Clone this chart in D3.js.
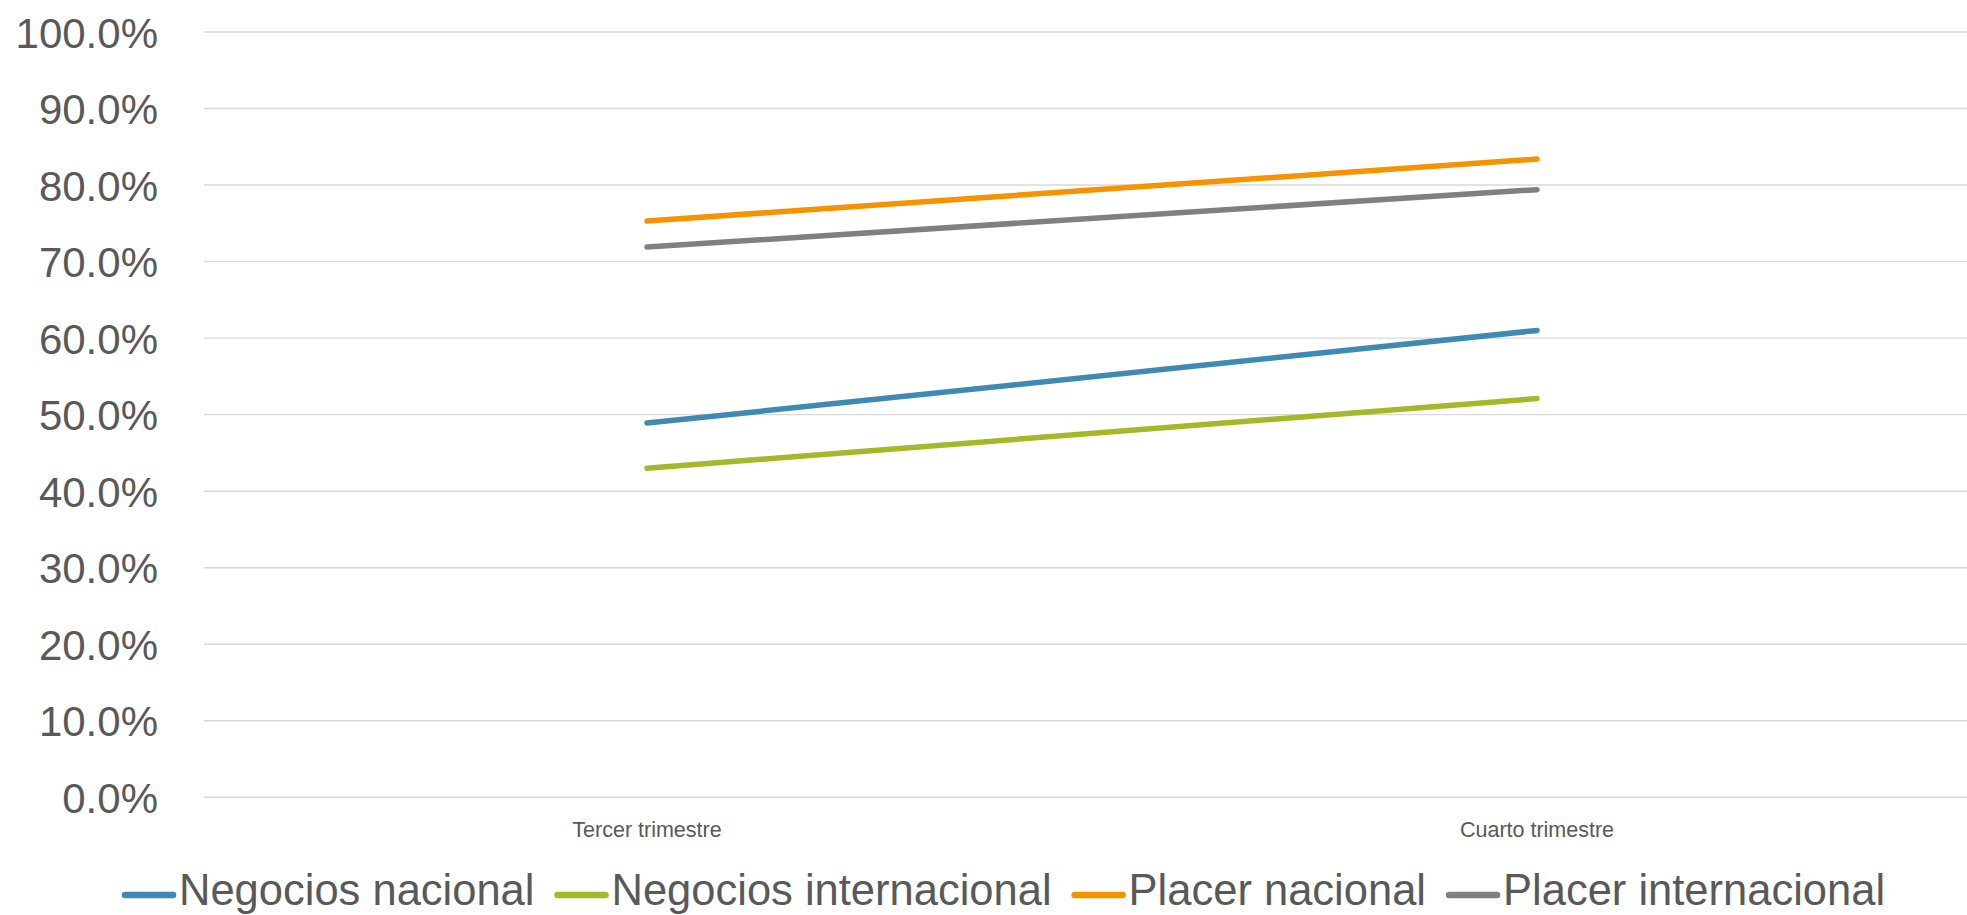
<!DOCTYPE html>
<html><head><meta charset="utf-8">
<script src="https://cdn.jsdelivr.net/npm/d3@7"></script>
<style>html,body{margin:0;padding:0;background:#fff;}svg{display:block;}</style>
</head><body>
<svg id="chart" width="1967" height="915"></svg>
<script>
const categories = ["Tercer trimestre", "Cuarto trimestre"];
const seriesNames = ["Negocios nacional", "Negocios internacional", "Placer nacional", "Placer internacional"];
const negociosNacional = [0.489, 0.610];
const negociosInternacional = [0.430, 0.521];
const placerNacional = [0.753, 0.834];
const placerInternacional = [0.719, 0.794];
const yTicks = [0, 0.1, 0.2, 0.3, 0.4, 0.5, 0.6, 0.7, 0.8, 0.9, 1.0];
const colors = ["#3F89B5", "#A6B828", "#F59300", "#808080"];
const seriesValues = [negociosNacional, negociosInternacional, placerNacional, placerInternacional];

const svg = d3.select("#chart");
const font = "'Liberation Sans', Arial, sans-serif";
const textColor = "#595959";

const x = d3.scaleBand().domain(categories).range([202, 1982]);
const y = d3.scaleLinear().domain([0, 1]).range([797.3, 32]);

// gridlines
svg.append("g").selectAll("line").data(yTicks).join("line")
  .attr("x1", 204).attr("x2", 1967)
  .attr("y1", d => y(d)).attr("y2", d => y(d))
  .attr("stroke", "#D9D9D9").attr("stroke-width", 1.4);

// y axis labels
const yAxis = d3.axisLeft(y).tickValues(yTicks).tickFormat(d3.format(".1%")).tickSize(0).tickPadding(0);
const gy = svg.append("g").attr("transform", "translate(158,0)").call(yAxis);
gy.select(".domain").remove();
gy.selectAll("text").attr("font-family", font).attr("font-size", 42).attr("fill", textColor).attr("dy", "0.36em");

// x axis labels
const xAxis = d3.axisBottom(x).tickSize(0).tickPadding(0);
const gx = svg.append("g").attr("transform", "translate(0,837)").call(xAxis);
gx.select(".domain").remove();
gx.selectAll("text").attr("font-family", font).attr("font-size", 21.5).attr("fill", textColor).attr("dy", 0);

// lines
const line = d3.line().x((d, i) => x(categories[i]) + x.bandwidth() / 2).y(d => y(d));
svg.append("g").selectAll("path").data(seriesValues).join("path")
  .attr("d", d => line(d))
  .attr("fill", "none")
  .attr("stroke", (d, i) => colors[i])
  .attr("stroke-width", 5.5)
  .attr("stroke-linecap", "round");

// legend
const lg = svg.append("g");
let cx = 122;
seriesNames.forEach((name, i) => {
  lg.append("line").attr("x1", cx + 3).attr("x2", cx + 51).attr("y1", 895).attr("y2", 895)
    .attr("stroke", colors[i]).attr("stroke-width", 6.5).attr("stroke-linecap", "round");
  const t = lg.append("text").attr("x", cx + 57).attr("y", 905)
    .attr("font-family", font).attr("font-size", 43.5).attr("fill", textColor).text(name);
  const w = t.node().getComputedTextLength();
  cx = cx + 57 + w + 20;
});
</script>
</body></html>
